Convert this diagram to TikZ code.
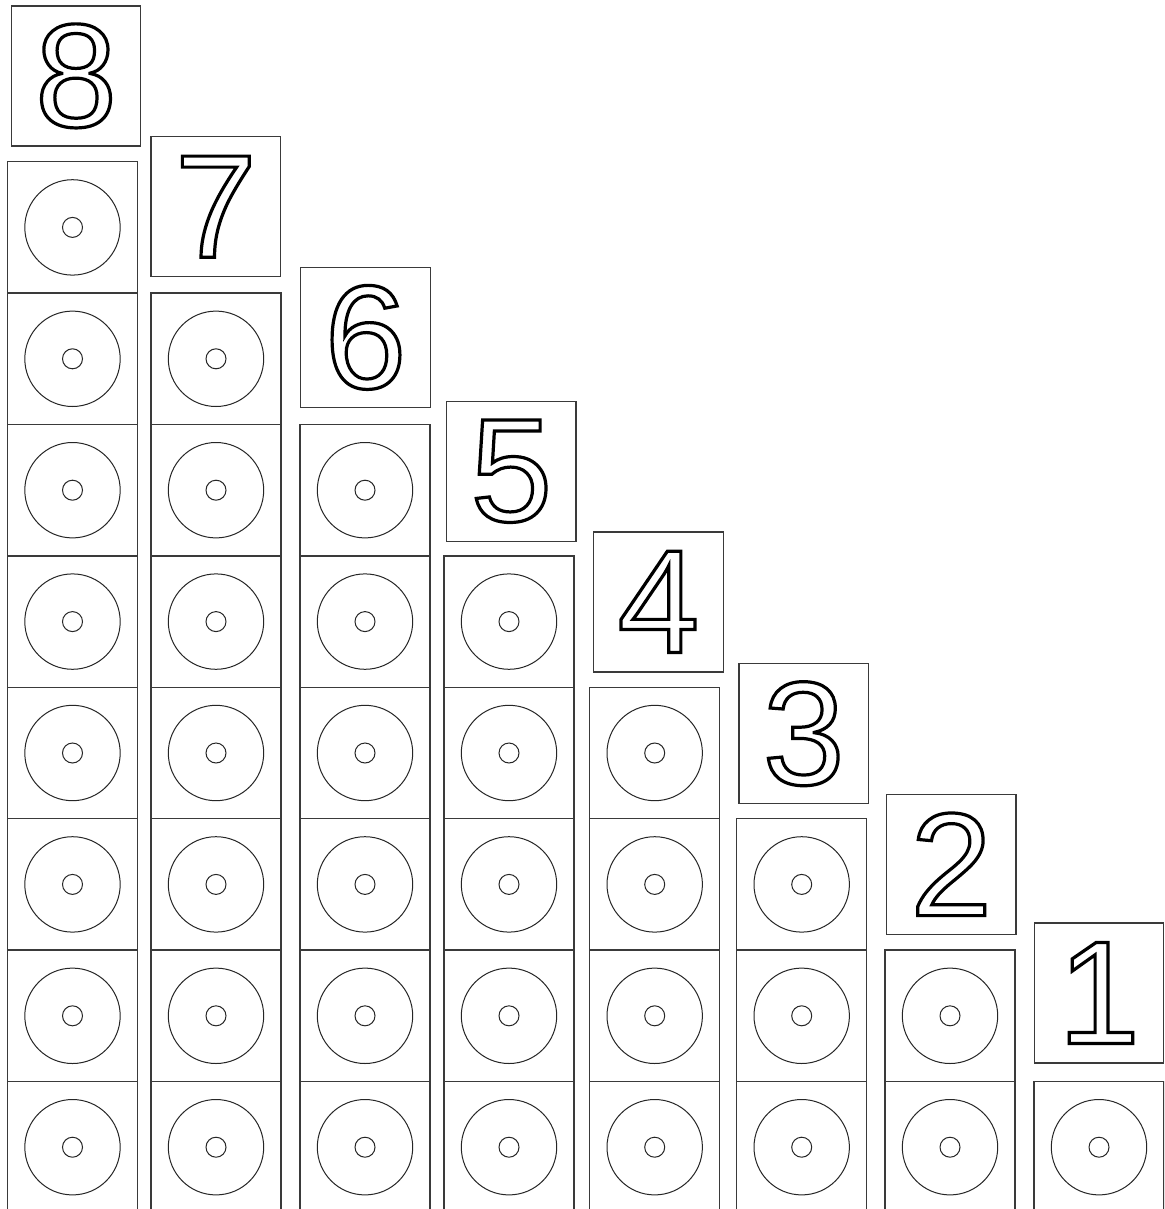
\documentclass[tikz,border=0pt]{standalone}
\usepackage{fontspec}
\setmainfont{Liberation Sans}
\definecolor{boxline}{HTML}{3A3A3A}
\definecolor{ringline}{HTML}{262626}
\newcommand{\outlinedigit}[1]{\special{pdf:literal direct 1 Tr 3.2 w}#1\special{pdf:literal direct 0 Tr}}
\tikzset{
  numbox/.style={draw=boxline, line width=1.3pt, minimum width=129.4pt, minimum height=140pt,
    inner sep=0pt, font=\fontsize{147}{147}\selectfont},
  cellbox/.style={draw=boxline, line width=1.3pt, minimum width=130pt, minimum height=131.4pt, inner sep=0pt},
  disc/.style={circle, draw=ringline, line width=1pt, minimum size=95.4pt, inner sep=0pt},
  hole/.style={circle, draw=ringline, line width=1pt, minimum size=20pt, inner sep=0pt}
}
\begin{document}
\begin{tikzpicture}[x=1pt,y=-1pt]
\useasboundingbox (0,0) rectangle (1164,1209);
\clip (0,0) rectangle (1164,1209);
\fill[white] (0,0) rectangle (1164,1209);
% cells with discs
\foreach \c/\xc in {0/72.5,1/216,2/365,3/509,4/654.7,5/801.7,6/950,7/1099} {
  \foreach \r in {\c,...,7} {
    \node[cellbox] (c\c r\r) at (\xc, 227.4+131.4*\r) {};
    \node[disc] (d\c r\r) at (c\c r\r.center) {};
    \node[hole] (h\c r\r) at (c\c r\r.center) {};
  }
}
% number boxes
\foreach \n/\x/\y in {8/76/75.9, 7/215.7/206.7, 6/365.5/337.4, 5/511.3/471.2,
                     4/658.5/601.9, 3/803.7/733.7, 2/951.2/864.3, 1/1099/993} {
  \node[numbox] (n\n) at (\x,\y) {\outlinedigit{\n}};
}
\end{tikzpicture}
\end{document}
